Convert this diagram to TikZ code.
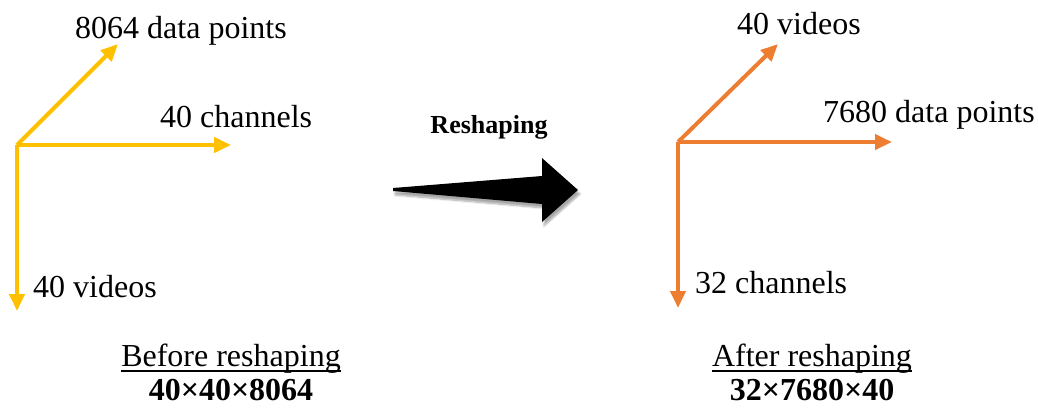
\documentclass[tikz,border=0pt]{standalone}
\usepackage{fontspec}
\setmainfont{Liberation Serif}
\usetikzlibrary{arrows.meta,shadows.blur}
\definecolor{axisyellow}{HTML}{FFC000}
\definecolor{axisorange}{HTML}{ED7D31}
\begin{document}
\begin{tikzpicture}[x=1bp,y=-1bp,
  axis/.style={line width=4bp,-{Triangle[length=17bp,width=15bp]}},
  lbl/.style={inner sep=0pt,anchor=base west,font=\fontsize{32bp}{38bp}\selectfont},
  caption/.style={inner sep=0pt,anchor=base,font=\fontsize{32bp}{38bp}\selectfont},
  dims/.style={inner sep=0pt,anchor=base,font=\fontsize{32bp}{38bp}\selectfont\bfseries},
  uline/.style={line width=1.6bp}]
\useasboundingbox (0,0) rectangle (1038,408);

% before reshaping: three axes
\coordinate (o1) at (17,145);
\coordinate (t1a) at (118,44);
\coordinate (t1b) at (231,145);
\coordinate (t1c) at (17,311);
\draw[axis,draw=axisyellow,fill=axisyellow] (o1) -- (t1a);
\draw[axis,draw=axisyellow,fill=axisyellow] (o1) -- (t1b);
\draw[axis,draw=axisyellow,fill=axisyellow] (o1) -- (t1c);
\node[lbl] (l1a) at (75,38) {8064 data points};
\node[lbl] (l1b) at (160,127) {40 channels};
\node[lbl] (l1c) at (33,297) {40 videos};

% after reshaping: three axes
\coordinate (o2) at (678,142);
\coordinate (t2a) at (778,44);
\coordinate (t2b) at (892,142);
\coordinate (t2c) at (678,308);
\draw[axis,draw=axisorange,fill=axisorange] (o2) -- (t2a);
\draw[axis,draw=axisorange,fill=axisorange] (o2) -- (t2b);
\draw[axis,draw=axisorange,fill=axisorange] (o2) -- (t2c);
\node[lbl] (l2a) at (737,34) {40 videos};
\node[lbl] (l2b) at (823,122) {7680 data points};
\node[lbl] (l2c) at (695,293) {32 channels};

% central tapered arrow
\node[inner sep=0pt,anchor=base,font=\fontsize{26bp}{30bp}\selectfont\bfseries] (rs) at (489,133) {Reshaping};
\fill[black,blur shadow={shadow xshift=2bp,shadow yshift=-4bp,shadow blur steps=8,shadow opacity=35}]
  (393,188) -- (542,176) -- (542,158) -- (578,190) -- (542,222) -- (542,204) -- (393,191) -- cycle;

% captions with their underlines
\node[caption] (c1) at (231,366) {Before reshaping};
\draw[uline] (c1.west |- 0,371) -- (c1.east |- 0,371);
\node[dims] (d1) at (231,400) {40×40×8064};
\node[caption] (c2) at (812,366) {After reshaping};
\draw[uline] (c2.west |- 0,371) -- (c2.east |- 0,371);
\node[dims] (d2) at (812,400) {32×7680×40};
\end{tikzpicture}
\end{document}
